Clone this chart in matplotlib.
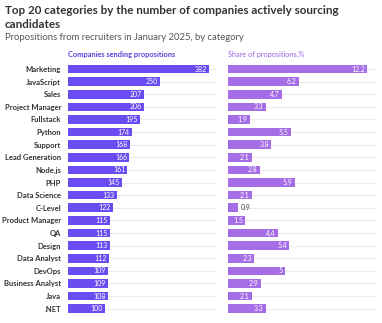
import matplotlib.pyplot as plt

categories = [
    "Marketing", "JavaScript", "Sales", "Project Manager", "Fullstack",
    "Python", "Support", "Lead Generation", "Node.js", "PHP",
    "Data Science", "C-Level", "Product Manager", "QA", "Design",
    "Data Analyst", "DevOps", "Business Analyst", "Java", ".NET",
]
companies = [382, 250, 207, 206, 195, 174, 168, 166, 161, 145,
             133, 122, 115, 115, 113, 112, 109, 109, 108, 100]
share = [12.2, 6.2, 4.7, 3.3, 1.9, 5.5, 3.8, 2.1, 2.8, 5.9,
         2.1, 0.9, 1.5, 4.4, 5.4, 2.3, 5, 2.9, 2.1, 3.3]

LEFT_COLOR = "#6a4cf0"
RIGHT_COLOR = "#a56de6"
GRID_COLOR = "#ececec"

plt.rcParams["font.family"] = ["Lato", "DejaVu Sans"]

W, H = 382, 323
fig = plt.figure(figsize=(W / 100, H / 100), dpi=100)
fig.patch.set_facecolor("white")


def box(x0, x1, y0, y1):
    # pixel box -> figure fraction
    return [x0 / W, 1 - y1 / H, (x1 - x0) / W, (y1 - y0) / H]


ax_l = fig.add_axes(box(68, 216, 62.7, 315))
ax_r = fig.add_axes(box(228, 376, 62.7, 315))

ypos = list(range(len(categories)))


def fmt(v):
    return f"{v:g}"


def draw_panel(ax, values, color, xmax, dark_below):
    ax.set_xlim(0, xmax)
    ax.set_ylim(len(values) - 0.5, -0.5)
    for y in ypos:
        ax.axhline(y, color=GRID_COLOR, lw=0.8, zorder=0)
    ax.barh(ypos, values, height=0.68, color=color, zorder=2)
    for y, v in zip(ypos, values):
        if v < dark_below:
            ax.text(v + xmax * 0.02, y, fmt(v), ha="left", va="center",
                    fontsize=5, color="#444444")
        else:
            ax.text(v - xmax * 0.015, y, fmt(v), ha="right", va="center",
                    fontsize=5, color="white")
    ax.set_xticks([])
    ax.set_yticks([])
    for s in ax.spines.values():
        s.set_visible(False)
    ax.patch.set_alpha(0)


draw_panel(ax_l, companies, LEFT_COLOR, 401, 0)
draw_panel(ax_r, share, RIGHT_COLOR, 13.0, 1.2)

ax_l.set_yticks(ypos)
ax_l.set_yticklabels(categories, fontsize=5.5, fontweight="bold", color="#333333")
ax_l.tick_params(axis="y", length=0, pad=5)

fig.text(5 / W, 1 - 11 / H, "Top 20 categories by the number of companies actively sourcing",
         fontsize=8.4, fontweight="bold", color="#333333", va="center")
fig.text(5 / W, 1 - 24 / H, "candidates",
         fontsize=8.4, fontweight="bold", color="#333333", va="center")
fig.text(5 / W, 1 - 38 / H, "Propositions from recruiters in January 2025, by category",
         fontsize=6.8, color="#555555", va="center")
fig.text(68 / W, 1 - 54 / H, "Companies sending propositions",
         fontsize=5.3, fontweight="bold", color="#5a3fd6", va="center")
fig.text(228 / W, 1 - 54 / H, "Share of propositions,%",
         fontsize=5.3, color="#9b63e0", va="center")

fig.savefig("out.png", dpi=100)
